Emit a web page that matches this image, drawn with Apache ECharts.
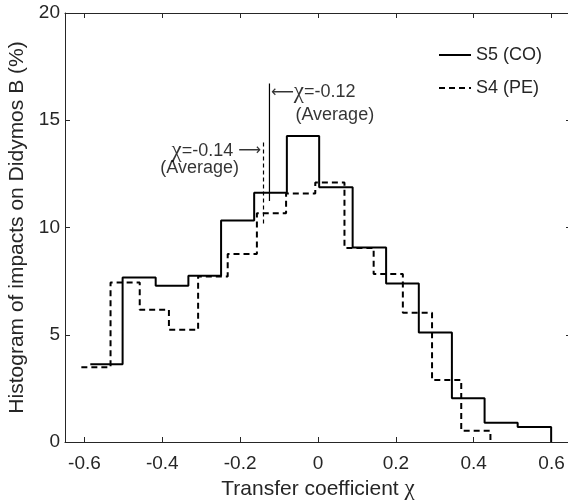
<!DOCTYPE html>
<html>
<head>
<meta charset="utf-8">
<script src="https://cdn.jsdelivr.net/npm/echarts@6/dist/echarts.min.js"></script>
<style>html,body{margin:0;padding:0;background:#fff}#c{width:568px;height:502px}</style>
</head>
<body>
<div id="c"></div>
<script>
// Bin edges and heights
const s5Edges = [-0.585, -0.502, -0.417, -0.333, -0.249, -0.164, -0.080, 0.003, 0.089, 0.175, 0.259, 0.344, 0.428, 0.513, 0.599];
const s5Values = [3.62, 7.67, 7.28, 7.75, 10.33, 11.62, 14.26, 11.88, 9.07, 7.39, 5.11, 2.04, 0.90, 0.70];
const s4Edges = [-0.608, -0.533, -0.458, -0.383, -0.308, -0.232, -0.157, -0.082, -0.007, 0.068, 0.143, 0.218, 0.293, 0.368, 0.443];
const s4Values = [3.49, 7.44, 6.16, 5.23, 7.72, 8.76, 10.66, 11.59, 12.10, 9.05, 7.83, 6.03, 2.89, 0.53];
// Average markers
const s5Avg = -0.1247, s5AvgSpan = [11.24, 16.71];
const s4Avg = -0.14, s4AvgSpan = [10.19, 14.0];
const xTicks = [-0.6, -0.4, -0.2, 0, 0.2, 0.4, 0.6];
const yTicks = [0, 5, 10, 15, 20];
const seriesNames = ['S5 (CO)', 'S4 (PE)'];

function stairs(edges, vals) {
  const pts = [];
  for (let i = 0; i < vals.length; i++) {
    pts.push([edges[i], vals[i]]);
    pts.push([edges[i + 1], vals[i]]);
  }
  pts.push([edges[edges.length - 1], 0]);
  return pts;
}

const ink = '#262626';
const sans = 'Liberation Sans';
const serif = 'Liberation Serif';

const chart = echarts.init(document.getElementById('c'), null, {renderer: 'canvas'});

function axisLine() { return {show: true, onZero: false, lineStyle: {color: ink, width: 1}}; }
function tick(vals) {
  const t = {show: true, inside: true, length: 5, lineStyle: {color: ink, width: 1}};
  if (vals) t.customValues = vals;
  return t;
}

chart.setOption({
  animation: false,
  backgroundColor: '#fff',
  grid: {left: 65, top: 13, width: 506, height: 429, containLabel: false, outerBoundsMode: 'none'},
  xAxis: [
    {
      type: 'value', min: -0.65, max: 0.65, position: 'bottom',
      axisLine: axisLine(), axisTick: tick(xTicks), splitLine: {show: false},
      axisLabel: {customValues: xTicks, color: ink, fontFamily: sans, fontSize: 19, margin: 12,
        alignMinLabel: 'center', alignMaxLabel: 'center'},
      name: 'Transfer coefficient {c|χ}', nameLocation: 'middle', nameGap: 34,
      nameTextStyle: {color: ink, fontFamily: sans, fontSize: 21,
        rich: {c: {fontFamily: serif, fontSize: 23, color: ink}}}
    },
    {
      type: 'value', min: -0.65, max: 0.65, position: 'top',
      axisLine: axisLine(), axisTick: tick(xTicks), splitLine: {show: false},
      axisLabel: {show: false}
    }
  ],
  yAxis: [
    {
      type: 'value', min: 0, max: 20, interval: 5, position: 'left',
      axisLine: axisLine(), axisTick: tick(), splitLine: {show: false},
      axisLabel: {color: ink, fontFamily: sans, fontSize: 19, margin: 5,
        verticalAlign: 'middle',
        verticalAlignMinLabel: 'middle', verticalAlignMaxLabel: 'middle'},
      name: 'Histogram of impacts on Didymos B (%)', nameLocation: 'middle', nameGap: 27,
      nameRotate: 90,
      nameTextStyle: {color: ink, fontFamily: sans, fontSize: 21}
    },
    {
      type: 'value', min: 0, max: 20, interval: 5, position: 'right',
      axisLine: axisLine(), axisTick: tick(), splitLine: {show: false},
      axisLabel: {show: false}
    }
  ],
  legend: {
    data: seriesNames, orient: 'vertical', left: 438, top: 46, padding: 0,
    itemWidth: 32, itemHeight: 12, itemGap: 15,
    itemStyle: {opacity: 0},
    textStyle: {color: ink, fontFamily: sans, fontSize: 18}
  },
  series: [
    {
      name: seriesNames[0], type: 'line', data: stairs(s5Edges, s5Values),
      symbol: 'none', lineStyle: {color: '#000', width: 2, type: 'solid'}, itemStyle: {color: '#000'}, z: 3
    },
    {
      name: seriesNames[1], type: 'line', data: stairs(s4Edges, s4Values),
      symbol: 'none', lineStyle: {color: '#000', width: 2, type: [6, 4]}, itemStyle: {color: '#000'}, z: 2
    },
    {
      name: 'avgS5', type: 'line', data: [[s5Avg, s5AvgSpan[0]], [s5Avg, s5AvgSpan[1]]],
      symbol: 'none', lineStyle: {color: '#000', width: 1.2, type: 'solid'}, z: 4
    },
    {
      name: 'avgS4', type: 'line', data: [[s4Avg, s4AvgSpan[0]], [s4Avg, s4AvgSpan[1]]],
      symbol: 'none', lineStyle: {color: '#000', width: 1.2, type: [4, 3]}, z: 4
    },
    {
      name: 'notes', type: 'scatter', symbolSize: 0, silent: true, z: 5,
      data: [
        {value: [-0.121, 16.3], label: {show: true, position: 'right', distance: 0,
          formatter: '{a|⟵}{c|χ}{t|=-0.12}'}},
        {value: [-0.058, 15.25], label: {show: true, position: 'right', distance: 0,
          formatter: '{t|(Average)}'}},
        {value: [-0.146, 13.57], label: {show: true, position: 'left', distance: 0,
          formatter: '{c|χ}{t|=-0.14 }{a|⟶}'}},
        {value: [-0.203, 12.76], label: {show: true, position: 'left', distance: 0,
          formatter: '{t|(Average)}'}}
      ],
      label: {
        rich: {
          a: {fontFamily: 'DejaVu Sans', fontSize: 16, color: '#000'},
          c: {fontFamily: serif, fontSize: 23, color: '#000'},
          t: {fontFamily: sans, fontSize: 18, color: '#000'}
        }
      }
    }
  ]
});
</script>
</body>
</html>
